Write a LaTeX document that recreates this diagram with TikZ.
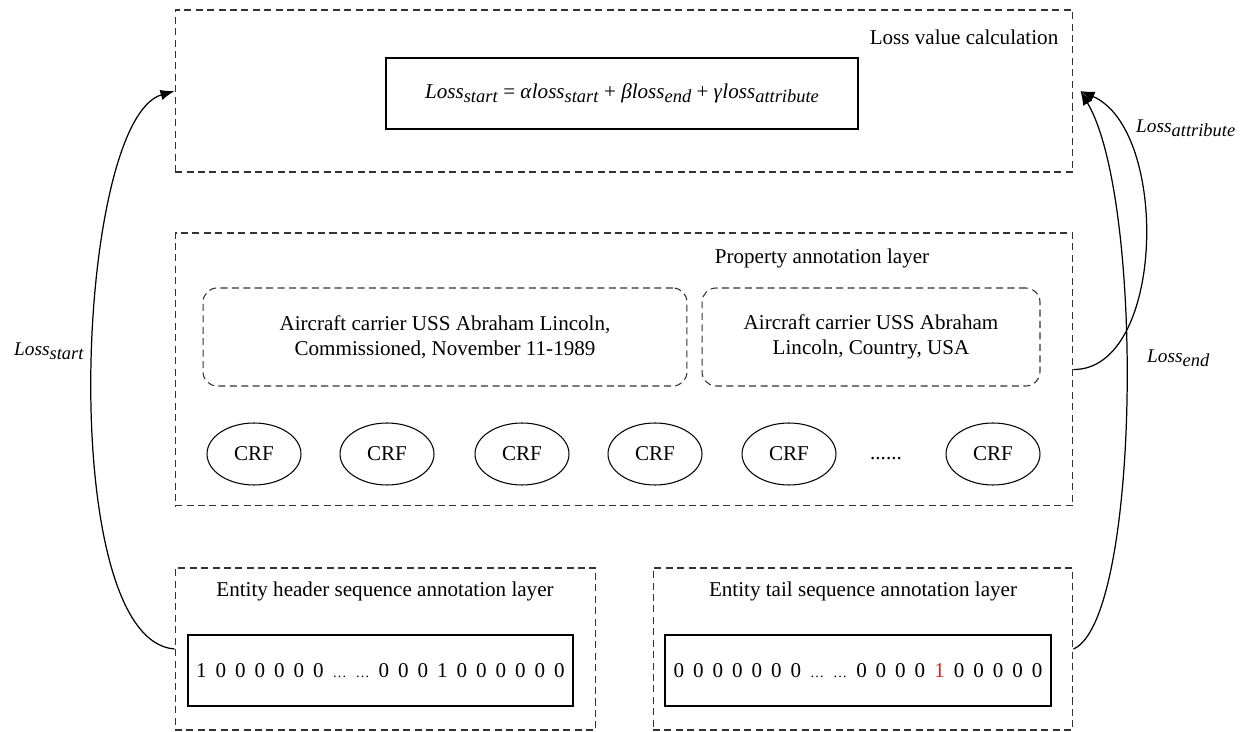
\documentclass[tikz,border=0pt]{standalone}
\usepackage{fontspec}
\setmainfont{Liberation Serif}
\newfontfamily\seqfont[WordSpace=1.7]{Liberation Serif}
\usepackage{tikz}
\usetikzlibrary{shapes.geometric, arrows.meta, positioning}

\newcommand{\lossx}[2]{\textit{#1}\raisebox{-0.45ex}{\fontsize{10.5}{10.5}\selectfont\textit{#2}}}

\begin{document}
\begin{tikzpicture}[x=0.02cm,y=-0.02cm,
  font=\fontsize{12}{14.5}\selectfont,
  layer/.style={draw=black!80, dash pattern=on 4pt off 2.5pt, line width=0.6pt, inner sep=0pt},
  attrbox/.style={layer, rounded corners=8pt, align=center},
  seqbox/.style={draw, line width=0.8pt, inner sep=0pt},
  crf/.style={ellipse, draw, line width=0.6pt, minimum width=1.88cm, minimum height=1.24cm, inner sep=0pt},
  loss/.style={-{Latex[length=8pt,width=6pt]}, line width=0.7pt}]
\definecolor{onered}{RGB}{214,40,32}

\useasboundingbox (0,0) rectangle (1251,732);

% Loss value calculation
\node[layer, minimum width=17.96cm, minimum height=3.24cm] (calc) at (624,91) {};
\node (calctitle) at (964,37) {Loss value calculation};
\node[seqbox, minimum width=9.44cm, minimum height=1.42cm] (formula) at (622,93.5)
  {\lossx{Loss}{start} = \textit{α}\lossx{loss}{start} + \textit{β}\lossx{loss}{end} + \textit{γ}\lossx{loss}{attribute}};

% Property annotation layer
\node[layer, minimum width=17.96cm, minimum height=5.46cm] (prop) at (624,369.5) {};
\node (proptitle) at (822,258) {Property annotation layer};
\node[attrbox, minimum width=9.68cm, minimum height=1.96cm] (attr1) at (445,337)
  {Aircraft carrier USS Abraham Lincoln,\\Commissioned, November 11-1989};
\node[attrbox, minimum width=6.76cm, minimum height=1.96cm] (attr2) at (871,337)
  {Aircraft carrier USS Abraham\\Lincoln, Country, USA};

% CRF
\foreach \x [count=\i] in {254,387,522,655,789}
  \node[crf] (crf\i) at (\x,454) {CRF};
\node[anchor=base] (dots) at (886,460) {......};
\node[crf] (crf6) at (993,454) {CRF};

% Entity header
\node[layer, minimum width=8.42cm, minimum height=3.24cm] (head) at (385.5,649) {};
\node (headtitle) at (385,591) {Entity header sequence annotation layer};
\node[seqbox, font=\seqfont\fontsize{12}{14.5}\selectfont, minimum width=7.7cm, minimum height=1.42cm] (headseq) at (380.5,670.5)
  {1 0 0 0 0 0 0 {\footnotesize…} {\footnotesize…} 0 0 0 1 0 0 0 0 0 0};

% Entity tail
\node[layer, minimum width=8.4cm, minimum height=3.24cm] (tail) at (863,649) {};
\node (tailtitle) at (863,591) {Entity tail sequence annotation layer};
\node[seqbox, font=\seqfont\fontsize{12}{14.5}\selectfont, minimum width=7.72cm, minimum height=1.42cm] (tailseq) at (858,670.5)
  {0 0 0 0 0 0 0 {\footnotesize…} {\footnotesize…} 0 0 0 0 \textcolor{onered}{1} 0 0 0 0 0};

% Losses
\node[anchor=west, font=\fontsize{11}{13}\selectfont] (lstart) at (8,351) {\lossx{Loss}{start}};
\node[anchor=west, font=\fontsize{11}{13}\selectfont] (lattr) at (1130,128) {\lossx{Loss}{attribute}};
\node[anchor=west, font=\fontsize{11}{13}\selectfont] (lend) at (1141,358) {\lossx{Loss}{end}};

\draw[loss] (head.west) .. controls (55,640) and (75,120) .. (calc.west);
\draw[loss] (tail.east) .. controls (1140,620) and (1145,200) .. ([xshift=0.14cm]calc.east);
\draw[loss] (prop.east) .. controls (1165,370) and (1170,130) .. ([xshift=0.14cm]calc.east);

\end{tikzpicture}
\end{document}
